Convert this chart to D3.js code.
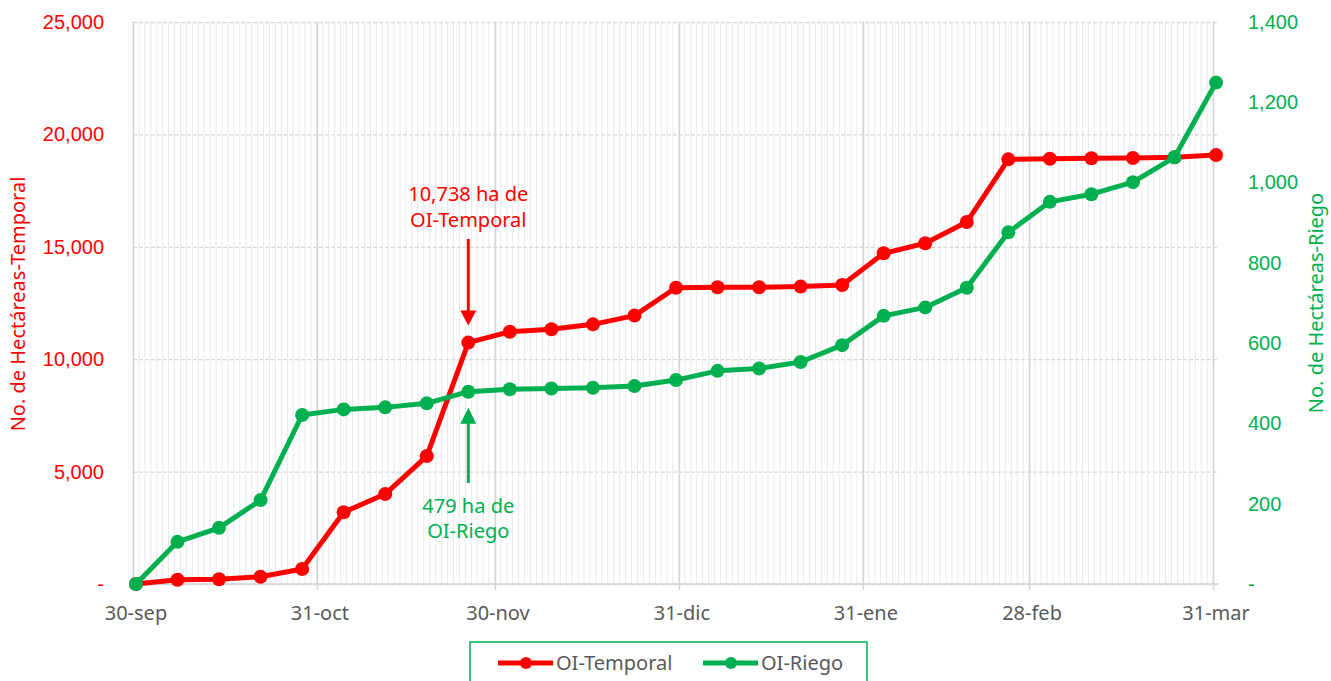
<!DOCTYPE html>
<html>
<head>
<meta charset="utf-8">
<style>
    body {
        margin: 0;
        background: #fff;
    }

    svg {
        display: block;
        font-family: 'Noto Sans', sans-serif;
    }

    .minor line {
        stroke: #e9e9e9;
        stroke-width: 1;
    }

    .grid-y .tick line {
        stroke: #d9d9d9;
        stroke-width: 1.3;
        stroke-dasharray: 4,2;
    }

    .grid-x .tick line {
        stroke: #d4d4d4;
        stroke-width: 1.5;
    }

    .domain {
        display: none;
    }

    .y-left .tick text {
        fill: #ff0000;
        font-size: 20px;
    }

    .y-right .tick text {
        fill: #00b050;
        font-size: 20px;
    }

    .x-axis .tick line {
        stroke: #d4d4d4;
        stroke-width: 1.5;
    }
</style>
</head>
<body>

<svg width="1331" height="681"></svg>

<script src="https://d3js.org/d3.v7.min.js"></script>

<script>

    // weekly cut-off dates
    let weeks = ["2022-09-30", "2022-10-07", "2022-10-14", "2022-10-21", "2022-10-28",
        "2022-11-04", "2022-11-11", "2022-11-18", "2022-11-25", "2022-12-02",
        "2022-12-09", "2022-12-16", "2022-12-23", "2022-12-30", "2023-01-06",
        "2023-01-13", "2023-01-20", "2023-01-27", "2023-02-03", "2023-02-10",
        "2023-02-17", "2023-02-24", "2023-03-03", "2023-03-10", "2023-03-17",
        "2023-03-24", "2023-03-31"]

    let temporal = [0, 190, 210, 320, 670, 3190, 4000, 5690, 10738, 11220,
        11330, 11550, 11940, 13180, 13200, 13200, 13230, 13300, 14710, 15160,
        16100, 18890, 18920, 18940, 18950, 18980, 19080]

    let riego = [0, 105, 140, 209, 421, 435, 440, 450, 479, 485,
        487, 489, 493, 508, 531, 537, 553, 595, 668, 689,
        738, 876, 952, 971, 1001, 1063, 1249]

    let monthTicks = ["2022-09-30", "2022-10-31", "2022-11-30", "2022-12-31",
        "2023-01-31", "2023-02-28", "2023-03-31"]
    let monthLabels = ["30-sep", "31-oct", "30-nov", "31-dic", "31-ene", "28-feb", "31-mar"]

    let leftTicks = [0, 5000, 10000, 15000, 20000, 25000]
    let rightTicks = [0, 200, 400, 600, 800, 1000, 1200, 1400]

    let seriesNames = ["OI-Temporal", "OI-Riego"]
    let red = "#ff0000"
    let green = "#00b050"

    let width = 1331
    let height = 681
    let margin = {top: 22, right: 112, bottom: 97, left: 133}

    let svg = d3.select("svg")

    let parse = d3.utcParse("%Y-%m-%d")
    let dates = weeks.map(parse)
    let mid = d => d3.utcHour.offset(d, 12)

    let start = parse(weeks[0])
    let end = d3.utcDay.offset(parse(weeks[weeks.length - 1]), 1)

    let x = d3.scaleUtc()
        .domain([start, end])
        .range([margin.left, width - margin.right])

    let yL = d3.scaleLinear()
        .domain([0, 25000])
        .range([height - margin.bottom, margin.top])

    let yR = d3.scaleLinear()
        .domain([0, 1400])
        .range([height - margin.bottom, margin.top])

    // daily minor gridlines
    svg.append("g")
        .attr("class", "minor")
        .selectAll("line")
        .data(d3.utcDay.range(start, end))
        .join("line")
        .attr("x1", d => x(d))
        .attr("x2", d => x(d))
        .attr("y1", margin.top)
        .attr("y2", height - margin.bottom)

    // horizontal dashed gridlines
    svg.append("g")
        .attr("class", "grid-y")
        .attr("transform", `translate(${margin.left}, 0)`)
        .call(d3.axisLeft(yL).tickValues(leftTicks).tickSize(-(width - margin.left - margin.right)).tickFormat(""))

    // month gridlines
    let monthDates = monthTicks.map(parse)
    svg.append("g")
        .attr("class", "grid-x")
        .attr("transform", `translate(0, ${height - margin.bottom})`)
        .call(d3.axisBottom(x).tickValues(monthDates).tickSize(-(height - margin.top - margin.bottom)).tickFormat(""))

    svg.append("line")
        .attr("x1", margin.left)
        .attr("x2", width - margin.right)
        .attr("y1", height - margin.bottom)
        .attr("y2", height - margin.bottom)
        .style("stroke", "#d4d4d4")
        .style("stroke-width", 1.5)

    // small ticks below the axis
    svg.append("g")
        .attr("class", "x-axis")
        .attr("transform", `translate(0, ${height - margin.bottom})`)
        .call(d3.axisBottom(x).tickValues(monthDates).tickSize(6).tickFormat(""))

    svg.append("g")
        .selectAll("text")
        .data(monthDates)
        .join("text")
        .attr("x", d => x(mid(d)))
        .attr("y", 620)
        .attr("text-anchor", "middle")
        .style("fill", "#595959")
        .style("font-size", "20px")
        .text((d, i) => monthLabels[i])

    let fmt = d => d === 0 ? "-" : d3.format(",")(d)

    svg.append("g")
        .attr("class", "y-left")
        .attr("transform", `translate(${margin.left - 26}, 0)`)
        .call(d3.axisLeft(yL).tickValues(leftTicks).tickSize(0).tickFormat(fmt))

    svg.append("g")
        .attr("class", "y-right")
        .attr("transform", `translate(${width - margin.right + 26}, 0)`)
        .call(d3.axisRight(yR).tickValues(rightTicks).tickSize(0).tickFormat(fmt))

    svg.append("text")
        .attr("transform", `translate(25, 304) rotate(-90)`)
        .attr("text-anchor", "middle")
        .style("fill", red)
        .style("font-size", "20px")
        .text("No. de Hectáreas-Temporal")

    svg.append("text")
        .attr("transform", `translate(1323, 303) rotate(-90)`)
        .attr("text-anchor", "middle")
        .style("fill", green)
        .style("font-size", "20px")
        .text("No. de Hectáreas-Riego")

    // series
    let series = [
        {name: seriesNames[0], values: temporal, y: yL, color: red},
        {name: seriesNames[1], values: riego, y: yR, color: green}
    ]

    series.forEach(s => {
        let pts = dates.map((d, i) => [x(mid(d)), s.y(s.values[i])])

        svg.append("path")
            .attr("d", d3.line()(pts))
            .style("fill", "none")
            .style("stroke", s.color)
            .style("stroke-width", 5)
            .style("stroke-linejoin", "round")

        svg.append("g")
            .selectAll("circle")
            .data(pts)
            .join("circle")
            .attr("cx", d => d[0])
            .attr("cy", d => d[1])
            .attr("r", 7)
            .style("fill", s.color)
    })

    // annotations
    let annIdx = 8
    let ax = x(mid(dates[annIdx]))

    let redTop = yL(temporal[annIdx])
    svg.append("line")
        .attr("x1", ax).attr("x2", ax)
        .attr("y1", 239).attr("y2", redTop - 30)
        .style("stroke", red)
        .style("stroke-width", 3)
    svg.append("path")
        .attr("d", `M${ax - 8},${redTop - 32} L${ax + 8},${redTop - 32} L${ax},${redTop - 17} Z`)
        .style("fill", red)

    svg.append("text")
        .attr("x", ax)
        .attr("y", 201)
        .attr("text-anchor", "middle")
        .style("fill", red)
        .style("font-size", "20px")
        .text("10,738 ha de")
    svg.append("text")
        .attr("x", ax)
        .attr("y", 227)
        .attr("text-anchor", "middle")
        .style("fill", red)
        .style("font-size", "20px")
        .text("OI-Temporal")

    let greenTop = yR(riego[annIdx])
    svg.append("line")
        .attr("x1", ax).attr("x2", ax)
        .attr("y1", greenTop + 30).attr("y2", 483)
        .style("stroke", green)
        .style("stroke-width", 3)
    svg.append("path")
        .attr("d", `M${ax - 8},${greenTop + 32} L${ax + 8},${greenTop + 32} L${ax},${greenTop + 16} Z`)
        .style("fill", green)

    svg.append("text")
        .attr("x", ax)
        .attr("y", 513)
        .attr("text-anchor", "middle")
        .style("fill", green)
        .style("font-size", "20px")
        .text("479 ha de")
    svg.append("text")
        .attr("x", ax)
        .attr("y", 538)
        .attr("text-anchor", "middle")
        .style("fill", green)
        .style("font-size", "20px")
        .text("OI-Riego")

    // legend
    svg.append("rect")
        .attr("x", 470)
        .attr("y", 642)
        .attr("width", 397)
        .attr("height", 60)
        .style("fill", "none")
        .style("stroke", green)
        .style("stroke-width", 1.5)

    let legendX = [498, 703]
    series.forEach((s, i) => {
        let g = svg.append("g").attr("transform", `translate(${legendX[i]}, 663)`)
        g.append("line")
            .attr("x1", 0).attr("x2", 55)
            .style("stroke", s.color)
            .style("stroke-width", 5)
        g.append("circle")
            .attr("cx", 28)
            .attr("r", 6)
            .style("fill", s.color)
        g.append("text")
            .attr("x", 58)
            .attr("y", 7)
            .style("fill", "#595959")
            .style("font-size", "20px")
            .text(s.name)
    })

</script>
</body>
</html>
